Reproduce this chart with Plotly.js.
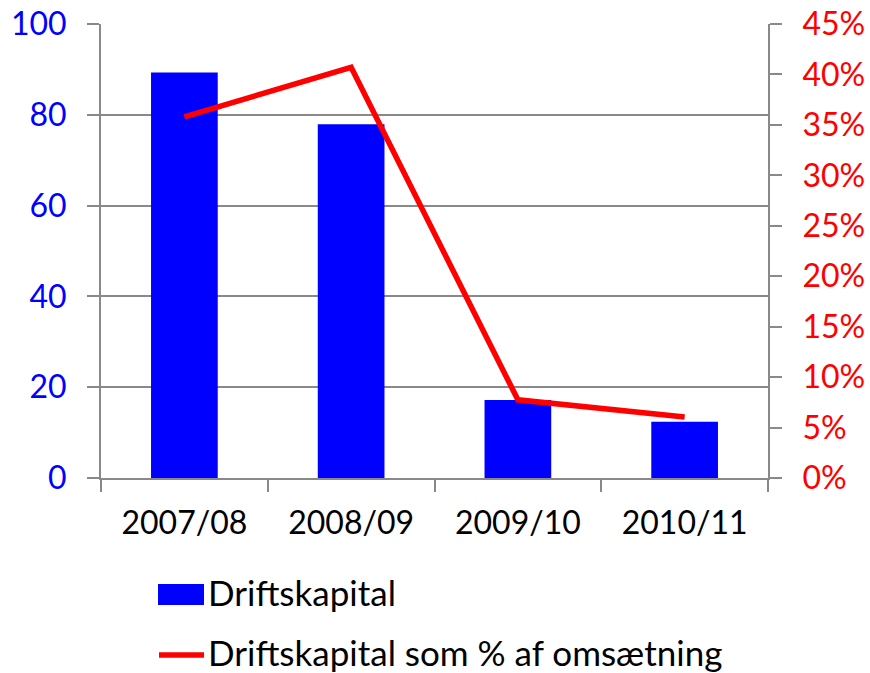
<!DOCTYPE html>
<html>
<head>
<meta charset="utf-8">
<script src="https://cdn.plot.ly/plotly-3.0.1.min.js"></script>
<style>html,body{margin:0;padding:0;background:#fff;}#chart{width:870px;height:673px;}</style>
</head>
<body>
<div id="chart"></div>
<script>
const categories = ["2007/08", "2008/09", "2009/10", "2010/11"];
const driftskapital = [89.3, 77.9, 17.2, 12.4];
const pctOfRevenue = [0.358, 0.407, 0.0775, 0.0605];
const leftTicks = [0, 20, 40, 60, 80, 100];
const rightTicks = [0, 0.05, 0.10, 0.15, 0.20, 0.25, 0.30, 0.35, 0.40, 0.45];
const rightTickText = ["0%", "5%", "10%", "15%", "20%", "25%", "30%", "35%", "40%", "45%"];
const seriesNames = ["Driftskapital", "Driftskapital som % af omsætning"];
const seriesColors = ["#0000ff", "#ff0000"];

const font = "Lato, 'Open Sans', sans-serif";
const grid = "#898989";

// plot area in pixels (for legend placement helpers)
const W = 870, H = 673, M = {l: 101, r: 102, t: 24, b: 195};
const pw = W - M.l - M.r, ph = H - M.t - M.b;
const px = v => (v - M.l) / pw;
const py = v => (H - M.b - v) / ph;

const traces = [
  {
    type: "bar", x: categories, y: driftskapital, name: seriesNames[0],
    marker: {color: seriesColors[0]}, width: 0.4, yaxis: "y", showlegend: false
  },
  {
    type: "scatter", mode: "lines", x: categories, y: pctOfRevenue, name: seriesNames[1],
    line: {color: seriesColors[1], width: 5.5}, yaxis: "y2", showlegend: false
  }
];

const layout = {
  width: W, height: H,
  margin: M,
  paper_bgcolor: "#fff", plot_bgcolor: "#fff",
  font: {family: font, size: 32, color: "#000"},
  showlegend: false,
  xaxis: {
    type: "category", showgrid: false, showline: true, linecolor: grid, linewidth: 2,
    ticks: "outside", ticklen: 12, tickcolor: grid, tickwidth: 2, tickson: "boundaries",
    tickfont: {family: font, size: 32, color: "#000"}, zeroline: false,
    ticklabelstandoff: 16
  },
  yaxis: {
    range: [0, 100], tickvals: leftTicks, showgrid: true, gridcolor: grid, gridwidth: 2,
    showline: true, linecolor: grid, linewidth: 2, ticks: "outside", ticklen: 12,
    tickcolor: grid, tickwidth: 2, zeroline: false,
    tickfont: {family: font, size: 32, color: "#0000ff"}, ticklabelstandoff: 14
  },
  yaxis2: {
    range: [0, 0.45], tickvals: rightTicks, ticktext: rightTickText, overlaying: "y", side: "right",
    showgrid: false, showline: true, linecolor: grid, linewidth: 2, ticks: "outside", ticklen: 12,
    tickcolor: grid, tickwidth: 2, zeroline: false,
    tickfont: {family: font, size: 32, color: "#ff0000"}, ticklabelstandoff: 14
  },
  bargap: 0.6,
  shapes: [
    {type: "rect", xref: "paper", yref: "paper", x0: px(158), x1: px(204), y0: py(584), y1: py(605),
     fillcolor: seriesColors[0], line: {width: 0}},
    {type: "line", xref: "paper", yref: "paper", x0: px(159), x1: px(204), y0: py(655), y1: py(655),
     line: {color: seriesColors[1], width: 5.5}}
  ],
  annotations: [
    {xref: "paper", yref: "paper", x: px(206), y: py(592), xanchor: "left", yanchor: "middle",
     text: seriesNames[0], showarrow: false, font: {family: font, size: 35, color: "#000"}},
    {xref: "paper", yref: "paper", x: px(206), y: py(652), xanchor: "left", yanchor: "middle",
     text: seriesNames[1], showarrow: false, font: {family: font, size: 35, color: "#000"}}
  ]
};

Plotly.newPlot("chart", traces, layout, {displayModeBar: false, staticPlot: true});
</script>
</body>
</html>
